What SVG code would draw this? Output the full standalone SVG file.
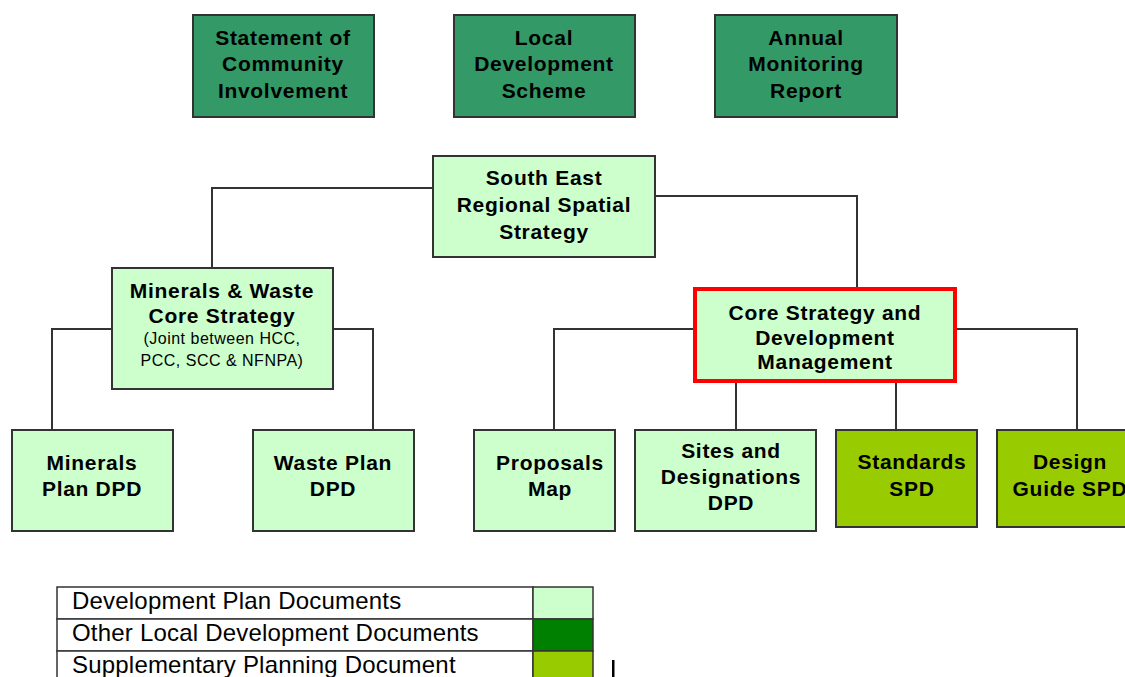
<svg xmlns="http://www.w3.org/2000/svg" width="1125" height="677" viewBox="0 0 1125 677">
  <style>
    .box { stroke: #333333; stroke-width: 2; }
    .other { fill: #339966; }
    .dpd { fill: #CCFFCC; }
    .spd { fill: #99CC00; }
    .core { fill: #CCFFCC; stroke: #FF0000; stroke-width: 4; }
    .lbl { font-family: "Liberation Sans", Arial, sans-serif; font-weight: bold; font-size: 21px; letter-spacing: 0.7px; fill: #000000; text-anchor: middle; }
    .sub { font-family: "Liberation Sans", Arial, sans-serif; font-size: 16px; letter-spacing: 0.5px; fill: #000000; text-anchor: middle; }
    .conn { fill: none; stroke: #333333; stroke-width: 2; }
    .leg { font-family: "Liberation Sans", Arial, sans-serif; font-size: 24px; letter-spacing: 0.2px; fill: #000000; }
    .cell { fill: #FFFFFF; stroke: #333333; stroke-width: 1.5; }
  </style>
  <rect width="1125" height="677" fill="#FFFFFF"/>

  <!-- connectors -->
  <g id="connectors">
    <path class="conn" d="M433,188 H212 V268"/>
    <path class="conn" d="M656,196 H857 V287"/>
    <path class="conn" d="M112,329 H52 V430"/>
    <path class="conn" d="M333,329 H373 V430"/>
    <path class="conn" d="M693,329 H554 V430"/>
    <path class="conn" d="M736,383 V430"/>
    <path class="conn" d="M896,383 V430"/>
    <path class="conn" d="M957,329 H1077 V430"/>
  </g>

  <!-- top row: other local development documents -->
  <g id="sci">
    <rect class="box other" x="193" y="15" width="181" height="102"/>
    <text class="lbl" x="283" y="45">Statement of</text>
    <text class="lbl" x="283" y="71">Community</text>
    <text class="lbl" x="283" y="98">Involvement</text>
  </g>
  <g id="lds">
    <rect class="box other" x="454" y="15" width="181" height="102"/>
    <text class="lbl" x="544" y="45">Local</text>
    <text class="lbl" x="544" y="71">Development</text>
    <text class="lbl" x="544" y="98">Scheme</text>
  </g>
  <g id="amr">
    <rect class="box other" x="715" y="15" width="182" height="102"/>
    <text class="lbl" x="806" y="45">Annual</text>
    <text class="lbl" x="806" y="71">Monitoring</text>
    <text class="lbl" x="806" y="98">Report</text>
  </g>

  <!-- regional strategy -->
  <g id="serss">
    <rect class="box dpd" x="433" y="156" width="222" height="101"/>
    <text class="lbl" x="544" y="185">South East</text>
    <text class="lbl" x="544" y="212">Regional Spatial</text>
    <text class="lbl" x="544" y="239">Strategy</text>
  </g>

  <!-- minerals and waste core strategy -->
  <g id="mwcs">
    <rect class="box dpd" x="112" y="268" width="221" height="121"/>
    <text class="lbl" x="222" y="298">Minerals &amp; Waste</text>
    <text class="lbl" x="222" y="323">Core Strategy</text>
    <text class="sub" x="222" y="344">(Joint between HCC,</text>
    <text class="sub" x="222" y="366">PCC, SCC &amp; NFNPA)</text>
  </g>

  <!-- core strategy and development management -->
  <g id="csdm">
    <rect class="core" x="695" y="289" width="260" height="92"/>
    <text class="lbl" x="825" y="320">Core Strategy and</text>
    <text class="lbl" x="825" y="345">Development</text>
    <text class="lbl" x="825" y="369">Management</text>
  </g>

  <!-- bottom row -->
  <g id="minerals-dpd">
    <rect class="box dpd" x="12" y="430" width="161" height="101"/>
    <text class="lbl" x="92" y="470">Minerals</text>
    <text class="lbl" x="92" y="496">Plan DPD</text>
  </g>
  <g id="waste-dpd">
    <rect class="box dpd" x="253" y="430" width="161" height="101"/>
    <text class="lbl" x="333" y="470">Waste Plan</text>
    <text class="lbl" x="333" y="496">DPD</text>
  </g>
  <g id="proposals-map">
    <rect class="box dpd" x="474" y="430" width="141" height="101"/>
    <text class="lbl" x="550" y="470">Proposals</text>
    <text class="lbl" x="550" y="496">Map</text>
  </g>
  <g id="sites-dpd">
    <rect class="box dpd" x="635" y="430" width="181" height="101"/>
    <text class="lbl" x="731" y="458">Sites and</text>
    <text class="lbl" x="731" y="484">Designations</text>
    <text class="lbl" x="731" y="510">DPD</text>
  </g>
  <g id="standards-spd">
    <rect class="box spd" x="836" y="430" width="141" height="97"/>
    <text class="lbl" x="912" y="469">Standards</text>
    <text class="lbl" x="912" y="496">SPD</text>
  </g>
  <g id="design-guide-spd">
    <rect class="box spd" x="997" y="430" width="141" height="97"/>
    <text class="lbl" x="1070" y="469">Design</text>
    <text class="lbl" x="1070" y="496">Guide SPD</text>
  </g>

  <!-- key -->
  <g id="legend">
    <rect class="cell" x="57" y="587" width="476" height="32"/>
    <rect class="cell" x="57" y="619" width="476" height="32"/>
    <rect class="cell" x="57" y="651" width="476" height="32"/>
    <rect x="533" y="587" width="60" height="32" fill="#CCFFCC" stroke="#333333" stroke-width="1.5"/>
    <rect x="533" y="619" width="60" height="32" fill="#008000" stroke="#333333" stroke-width="1.5"/>
    <rect x="533" y="651" width="60" height="32" fill="#99CC00" stroke="#333333" stroke-width="1.5"/>
    <text class="leg" x="72" y="609">Development Plan Documents</text>
    <text class="leg" x="72" y="641">Other Local Development Documents</text>
    <text class="leg" x="72" y="673">Supplementary Planning Document</text>
  </g>
  <rect x="612" y="660" width="2.5" height="17" fill="#000000"/>
</svg>
